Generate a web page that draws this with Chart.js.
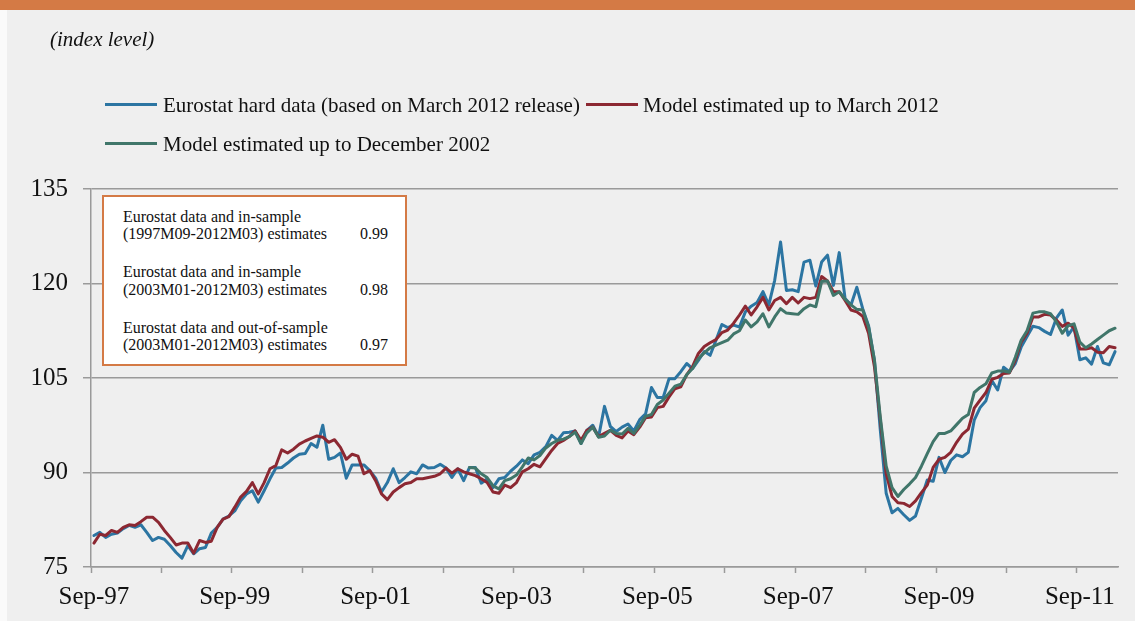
<!DOCTYPE html>
<html>
<head>
<meta charset="utf-8">
<script src="https://cdn.jsdelivr.net/npm/chart.js@4"></script>
<style>
html,body{margin:0;padding:0;}
body{width:1135px;height:621px;background:#efefef;position:relative;overflow:hidden;font-family:'Liberation Serif','Times New Roman',serif;color:#111;}
#band{position:absolute;left:0;top:0;width:1135px;height:10px;background:#d47a45;}
#strip{position:absolute;left:0;top:10px;width:7px;height:611px;background:#fafafa;}
canvas{position:absolute;left:0;top:0;}
.t{position:absolute;white-space:nowrap;line-height:1;z-index:3;}
#sub{left:50px;top:29px;font-size:21px;font-style:italic;}
.lg{font-size:21px;}
.sw{position:absolute;height:3px;width:52px;z-index:3;}
#inset{position:absolute;left:102px;top:195px;width:301px;height:167px;border:2px solid #d47a45;background:#fff;z-index:2;}
.it{font-size:16px;}
.iv{font-size:16px;text-align:right;width:60px;}
</style>
</head>
<body>
<div id="band"></div>
<div id="strip"></div>
<canvas id="c" width="1135" height="621"></canvas>

<div class="t" id="sub">(index level)</div>

<div class="sw" style="left:105px;top:103px;background:#2c75a2;"></div>
<div class="t lg" style="left:163px;top:95px;">Eurostat hard data (based on March 2012 release)</div>
<div class="sw" style="left:586px;top:103px;background:#8c2832;"></div>
<div class="t lg" style="left:643px;top:95px;">Model estimated up to March 2012</div>
<div class="sw" style="left:105px;top:142px;background:#40766a;"></div>
<div class="t lg" style="left:163px;top:134px;">Model estimated up to December 2002</div>

<div id="inset"></div>
<div class="t it" style="left:123px;top:209px;">Eurostat data and in-sample</div>
<div class="t it" style="left:123px;top:226px;">(1997M09-2012M03) estimates</div>
<div class="t iv" style="left:328px;top:226px;">0.99</div>
<div class="t it" style="left:123px;top:264px;">Eurostat data and in-sample</div>
<div class="t it" style="left:123px;top:282px;">(2003M01-2012M03) estimates</div>
<div class="t iv" style="left:328px;top:282px;">0.98</div>
<div class="t it" style="left:123px;top:320px;">Eurostat data and out-of-sample</div>
<div class="t it" style="left:123px;top:337px;">(2003M01-2012M03) estimates</div>
<div class="t iv" style="left:328px;top:337px;">0.97</div>

<script>
const months = [
 'Sep-97','Oct-97','Nov-97','Dec-97',
 'Jan-98','Feb-98','Mar-98','Apr-98','May-98','Jun-98','Jul-98','Aug-98','Sep-98','Oct-98','Nov-98','Dec-98',
 'Jan-99','Feb-99','Mar-99','Apr-99','May-99','Jun-99','Jul-99','Aug-99','Sep-99','Oct-99','Nov-99','Dec-99',
 'Jan-00','Feb-00','Mar-00','Apr-00','May-00','Jun-00','Jul-00','Aug-00','Sep-00','Oct-00','Nov-00','Dec-00',
 'Jan-01','Feb-01','Mar-01','Apr-01','May-01','Jun-01','Jul-01','Aug-01','Sep-01','Oct-01','Nov-01','Dec-01',
 'Jan-02','Feb-02','Mar-02','Apr-02','May-02','Jun-02','Jul-02','Aug-02','Sep-02','Oct-02','Nov-02','Dec-02',
 'Jan-03','Feb-03','Mar-03','Apr-03','May-03','Jun-03','Jul-03','Aug-03','Sep-03','Oct-03','Nov-03','Dec-03',
 'Jan-04','Feb-04','Mar-04','Apr-04','May-04','Jun-04','Jul-04','Aug-04','Sep-04','Oct-04','Nov-04','Dec-04',
 'Jan-05','Feb-05','Mar-05','Apr-05','May-05','Jun-05','Jul-05','Aug-05','Sep-05','Oct-05','Nov-05','Dec-05',
 'Jan-06','Feb-06','Mar-06','Apr-06','May-06','Jun-06','Jul-06','Aug-06','Sep-06','Oct-06','Nov-06','Dec-06',
 'Jan-07','Feb-07','Mar-07','Apr-07','May-07','Jun-07','Jul-07','Aug-07','Sep-07','Oct-07','Nov-07','Dec-07',
 'Jan-08','Feb-08','Mar-08','Apr-08','May-08','Jun-08','Jul-08','Aug-08','Sep-08','Oct-08','Nov-08','Dec-08',
 'Jan-09','Feb-09','Mar-09','Apr-09','May-09','Jun-09','Jul-09','Aug-09','Sep-09','Oct-09','Nov-09','Dec-09',
 'Jan-10','Feb-10','Mar-10','Apr-10','May-10','Jun-10','Jul-10','Aug-10','Sep-10','Oct-10','Nov-10','Dec-10',
 'Jan-11','Feb-11','Mar-11','Apr-11','May-11','Jun-11','Jul-11','Aug-11','Sep-11','Oct-11','Nov-11','Dec-11',
 'Jan-12','Feb-12','Mar-12'
];

const xTickLabels = ['Sep-97','Sep-99','Sep-01','Sep-03','Sep-05','Sep-07','Sep-09','Sep-11'];
const yTicks = [75, 90, 105, 120, 135];

// Eurostat hard data (based on March 2012 release), Sep-97 .. Mar-12
const eurostat = [
 80.0, 80.5, 79.7, 80.2, 80.4, 81.1, 81.6, 81.3, 81.7, 80.5,
 79.2, 79.7, 79.4, 78.4, 77.3, 76.4, 78.4, 77.1, 77.9, 78.1,
 80.4, 81.3, 82.6, 83.1, 83.9, 85.5, 86.6, 87.1, 85.3, 87.1,
 89.0, 90.7, 90.8, 91.5, 92.3, 92.9, 93.0, 94.6, 94.0, 97.5,
 92.1, 92.4, 93.1, 89.1, 91.2, 91.2, 91.2, 90.3, 89.1, 86.9,
 88.4, 90.6, 88.4, 89.2, 90.1, 89.8, 91.2, 90.7, 90.8, 91.3,
 90.7, 89.2, 90.6, 88.7, 90.8, 90.8, 88.3, 89.0, 87.6, 89.0,
 89.2, 90.2, 91.0, 92.0, 91.4, 92.8, 93.2, 94.1, 95.9, 95.1,
 96.3, 96.4, 96.6, 94.6, 96.7, 97.5, 95.7, 100.5, 97.3, 96.5,
 97.2, 97.7, 96.6, 98.4, 99.3, 103.5, 101.9, 101.9, 104.9, 104.9,
 106.0, 107.3, 106.5, 107.8, 109.2, 108.6, 111.0, 113.5, 113.0, 113.4,
 113.1, 115.5, 116.4, 117.0, 118.7, 116.6, 120.5, 126.6, 118.9, 119.0,
 118.7, 123.4, 123.7, 119.6, 123.4, 124.5, 119.7, 124.9, 117.6, 116.6,
 119.4, 116.0, 113.3, 107.8, 96.7, 86.7, 83.6, 84.3, 83.3, 82.4,
 83.1, 85.9, 88.8, 88.6, 92.4, 90.0, 91.9, 92.8, 92.5, 93.2,
 98.3, 100.3, 101.4, 104.6, 103.1, 106.7, 106.0, 107.3, 109.9, 111.6,
 113.2, 113.0, 112.4, 111.9, 114.5, 115.8, 111.8, 113.1, 107.9, 108.2,
 107.2, 110.0, 107.4, 107.1, 109.2
];

// Model estimated up to March 2012, Sep-97 .. Mar-12
const modelMar2012 = [
 78.8, 80.2, 80.0, 80.8, 80.5, 81.3, 81.7, 81.6, 82.2, 82.9,
 82.9, 82.1, 80.8, 79.7, 78.5, 78.8, 78.8, 77.2, 79.2, 78.9,
 79.1, 81.3, 82.6, 83.0, 84.5, 86.1, 87.0, 88.4, 86.6, 88.4,
 90.6, 91.1, 93.6, 93.1, 93.7, 94.5, 95.0, 95.4, 95.8, 95.6,
 94.8, 95.2, 94.0, 92.1, 92.9, 92.6, 89.8, 90.3, 88.7, 86.6,
 85.7, 86.9, 87.6, 88.2, 88.4, 89.0, 89.0, 89.2, 89.4, 89.8,
 90.7, 89.9, 90.6, 90.1, 89.8, 89.5, 89.0, 88.4, 86.9, 86.7,
 88.0, 87.6, 88.4, 90.1, 90.6, 91.3, 90.9, 92.2, 93.5, 94.6,
 95.1, 95.7, 96.6, 95.1, 96.7, 97.2, 95.7, 96.2, 96.7, 95.9,
 95.5, 96.6, 96.0, 97.2, 98.7, 98.8, 100.3, 100.5, 102.0, 103.3,
 103.6, 105.5, 106.8, 108.9, 110.0, 110.6, 111.1, 112.2, 112.6, 113.7,
 115.0, 116.4, 115.0, 116.3, 117.8, 115.8, 117.3, 117.8, 116.8, 117.8,
 116.9, 117.8, 117.6, 117.8, 121.1, 120.4, 118.7, 118.7, 117.3, 115.8,
 115.5, 114.8, 112.1, 106.8, 98.3, 89.8, 86.2, 85.2, 85.1, 84.6,
 85.5, 86.8, 88.0, 90.8, 92.1, 92.4, 93.2, 94.8, 96.1, 96.9,
 100.2, 101.5, 102.7, 104.8, 105.1, 105.7, 105.8, 107.8, 110.7, 112.1,
 114.7, 114.7, 115.1, 115.0, 114.2, 113.2, 113.7, 112.9, 109.6, 109.6,
 109.8, 109.1, 109.0, 110.0, 109.8
];

// Model estimated up to December 2002, Jan-03 .. Mar-12
const greenFirstMonth = 'Jan-03';
const modelDec2002 = [
 90.8, 90.7, 89.8, 89.2, 87.9, 87.4, 88.7, 89.0, 89.6, 90.9,
 92.3, 92.0, 92.7, 93.9, 94.6, 95.1, 95.3, 95.7, 96.4, 94.6,
 96.3, 97.2, 95.6, 95.8, 96.7, 96.2, 96.1, 97.0, 96.2, 97.5,
 98.9, 99.2, 100.8, 101.5, 102.6, 103.7, 104.0, 105.5, 106.5, 108.1,
 109.0, 109.8, 110.2, 110.6, 111.0, 112.0, 112.5, 114.2, 113.1, 113.9,
 115.2, 113.1, 114.7, 116.0, 115.3, 115.2, 115.1, 116.0, 116.6, 116.3,
 120.3, 120.4, 118.1, 118.7, 117.5, 116.6, 115.9, 115.8, 113.1, 107.8,
 98.8, 91.0, 87.6, 86.2, 87.3, 88.2, 89.2, 91.0, 93.0, 94.9,
 96.2, 96.2, 96.6, 97.6, 98.6, 99.2, 102.7, 103.5, 104.1, 105.8,
 106.1, 106.1, 105.9, 108.3, 111.0, 112.5, 115.3, 115.5, 115.5, 115.2,
 113.9, 112.1, 113.3, 113.6, 110.7, 109.8, 110.4, 111.1, 111.8, 112.5,
 112.9
];

const greenStart = months.indexOf(greenFirstMonth);
const greenData = months.map((m, i) => i < greenStart ? null : modelDec2002[i - greenStart]);

const FONT = "'Liberation Serif', 'Times New Roman', serif";
const AXIS = '#9a9a9a';

new Chart(document.getElementById('c'), {
  type: 'line',
  data: {
    labels: months,
    datasets: [
      { label: 'Eurostat hard data (based on March 2012 release)', data: eurostat,
        borderColor: '#2c75a2', borderWidth: 3, pointRadius: 0, order: 2 },
      { label: 'Model estimated up to March 2012', data: modelMar2012,
        borderColor: '#8c2832', borderWidth: 3, pointRadius: 0, order: 1 },
      { label: 'Model estimated up to December 2002', data: greenData,
        borderColor: '#40766a', borderWidth: 3, pointRadius: 0, order: 0 }
    ]
  },
  options: {
    responsive: false,
    animation: false,
    devicePixelRatio: 1,
    layout: { padding: { left: 0, right: 17, top: 189, bottom: 0 } },
    plugins: { legend: { display: false }, tooltip: { enabled: false } },
    elements: { line: { tension: 0, borderJoinStyle: 'round', borderCapStyle: 'round' } },
    scales: {
      x: {
        type: 'category',
        offset: true,
        grid: {
          offset: true, drawOnChartArea: false, drawTicks: true, tickLength: 6, tickWidth: 1.5,
          tickColor: c => (months[c.index] || '').startsWith('Sep') ? AXIS : 'rgba(0,0,0,0)'
        },
        border: { display: true, color: AXIS, width: 1.5 },
        ticks: {
          autoSkip: false, maxRotation: 0, minRotation: 0, padding: 9, color: '#111',
          font: { family: FONT, size: 25 },
          callback: (v, i) => xTickLabels.includes(months[i]) ? months[i] : ''
        },
        afterFit: s => { s.height = 54; }
      },
      y: {
        min: yTicks[0], max: yTicks[yTicks.length - 1],
        afterBuildTicks: s => { s.ticks = yTicks.map(v => ({ value: v })); },
        grid: { color: AXIS, lineWidth: 1.5, tickLength: 8, drawTicks: true },
        border: { display: true, color: AXIS, width: 1.5 },
        ticks: { padding: 15, color: '#111', font: { family: FONT, size: 25 } },
        afterFit: s => { s.width = 91; }
      }
    }
  }
});
</script>
</body>
</html>
